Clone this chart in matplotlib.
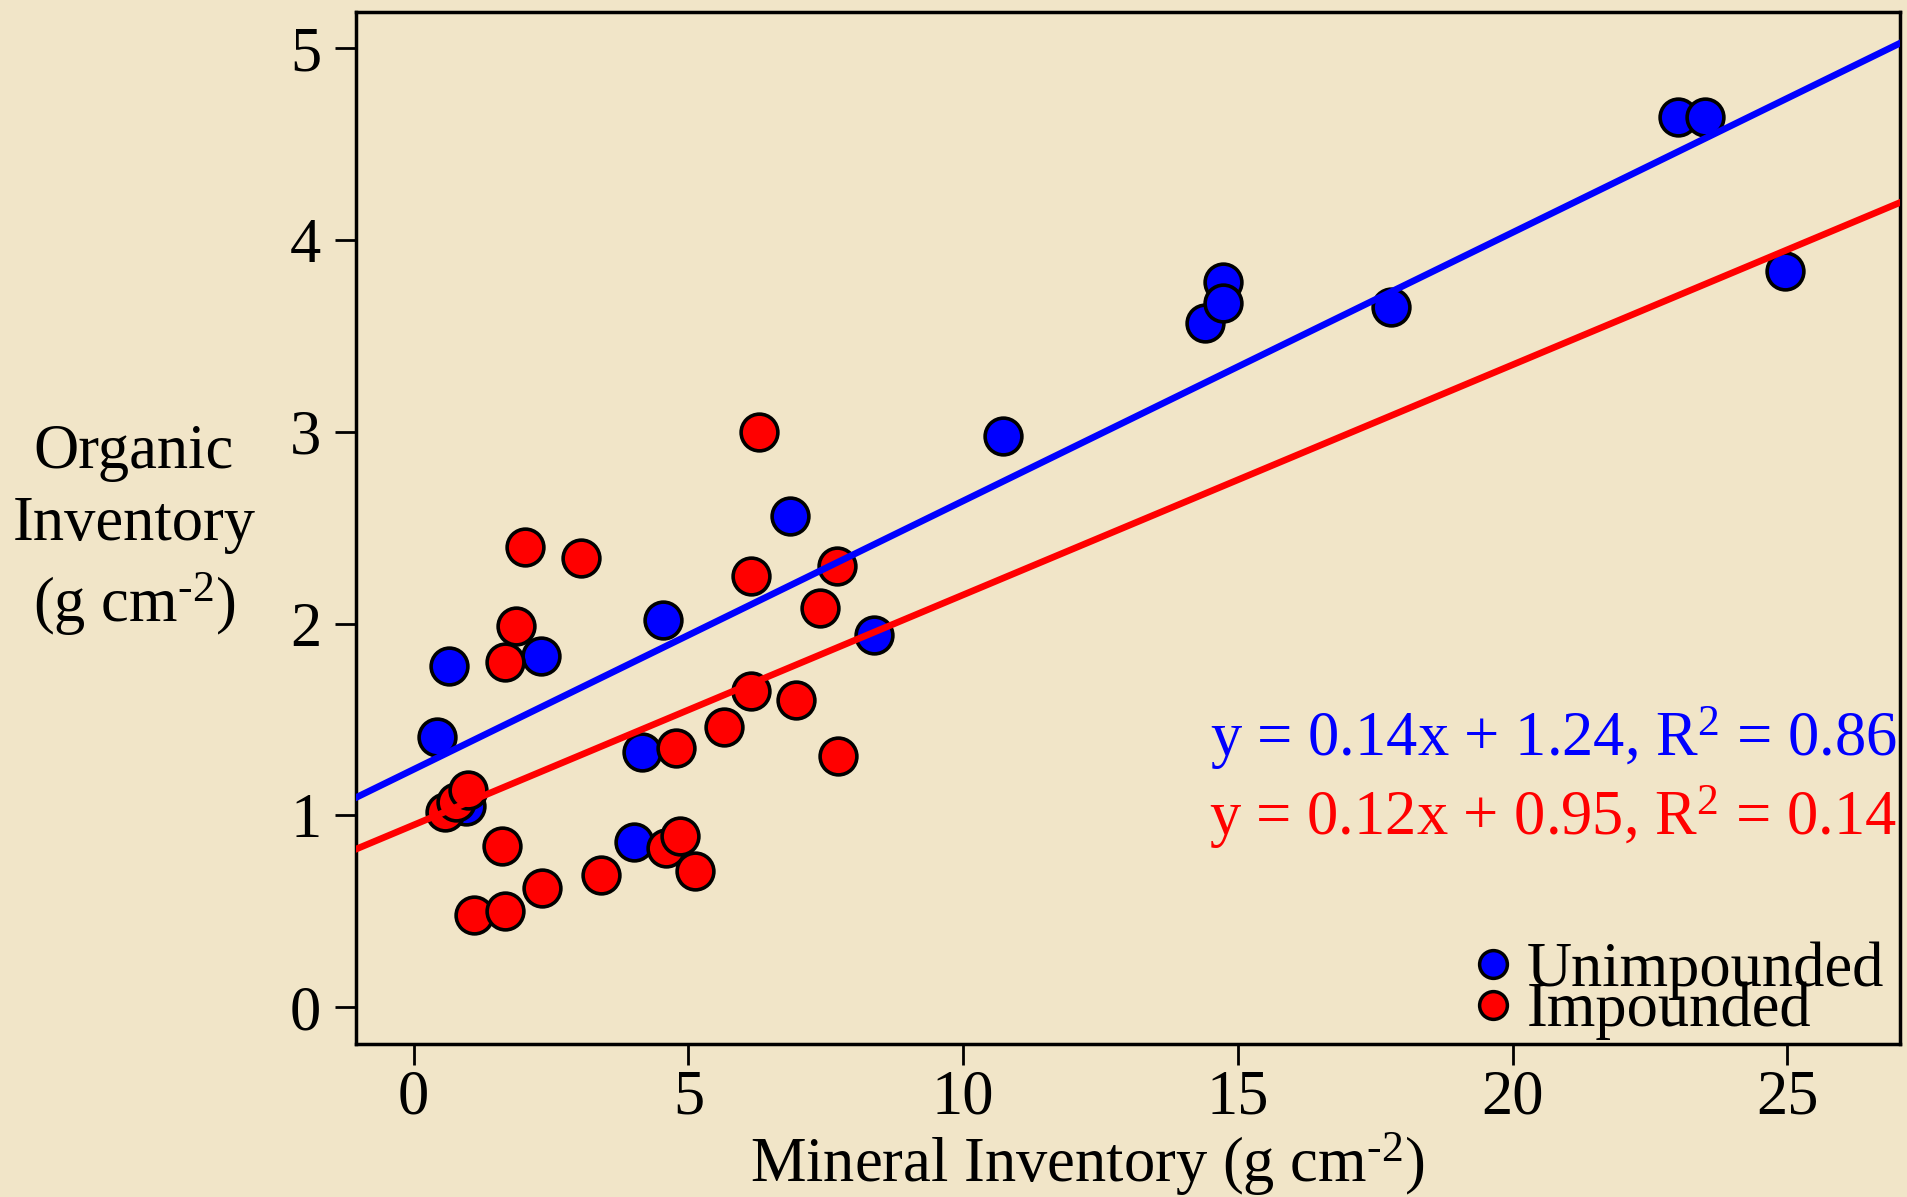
import matplotlib
matplotlib.use('Agg')
import matplotlib.pyplot as plt
import numpy as np
from matplotlib.lines import Line2D

# ---- data ----
unimp_x = [0.42, 0.64, 0.95, 2.32, 4.53, 4.15, 4.00, 6.85, 8.37, 10.73,
           14.40, 14.73, 14.73, 17.78, 23.01, 23.50, 24.96]
unimp_y = [1.41, 1.78, 1.05, 1.83, 2.02, 1.33, 0.86, 2.56, 1.94, 2.98,
           3.57, 3.78, 3.67, 3.65, 4.64, 4.64, 3.84]

imp_x = [0.57, 0.77, 0.99, 1.10, 1.66, 1.61, 1.66, 1.86, 2.03, 2.34, 3.05, 3.40,
         4.59, 4.84, 4.77, 5.12, 5.65, 6.14, 6.14, 6.29, 6.96, 7.40, 7.71, 7.73]
imp_y = [1.02, 1.07, 1.13, 0.48, 0.50, 0.84, 1.80, 1.99, 2.40, 0.62, 2.34, 0.69,
         0.83, 0.89, 1.35, 0.71, 1.46, 1.65, 2.25, 3.00, 1.60, 2.08, 2.30, 1.31]

fit_unimp = (0.14, 1.24, 0.86)   # slope, intercept, R2
fit_imp = (0.12, 0.95, 0.14)

x_ticks = [0, 5, 10, 15, 20, 25]
y_ticks = [0, 1, 2, 3, 4, 5]
series_labels = ['Unimpounded', 'Impounded']

# ---- style ----
bg = '#f1e5c8'
plt.rcParams['font.family'] = ['Liberation Serif', 'DejaVu Serif']
plt.rcParams['mathtext.fontset'] = 'custom'
plt.rcParams['mathtext.rm'] = 'Liberation Serif'
plt.rcParams['mathtext.it'] = 'Liberation Serif:italic'
FS = 45

fig = plt.figure(figsize=(19.07, 11.97), dpi=100, facecolor=bg)
ax = fig.add_axes([0.1867, 0.1282, 0.8096, 0.8618])
ax.set_facecolor(bg)

xlim = (-1.05, 27.05)
ylim = (-0.19, 5.19)
ax.set_xlim(*xlim)
ax.set_ylim(*ylim)

ax.scatter(unimp_x, unimp_y, s=700, c='blue', edgecolors='black', linewidths=2.6, zorder=3)
ax.scatter(imp_x, imp_y, s=700, c='red', edgecolors='black', linewidths=2.6, zorder=4)

xs = np.array(xlim)
ax.plot(xs, fit_unimp[0] * xs + fit_unimp[1], color='blue', lw=4.8, zorder=5)
ax.plot(xs, fit_imp[0] * xs + fit_imp[1], color='red', lw=4.8, zorder=5)

ax.set_xticks(x_ticks)
ax.set_yticks(y_ticks)
ax.tick_params(axis='both', labelsize=FS, length=15, width=2, color='black')
ax.tick_params(axis='x', pad=4)
ax.tick_params(axis='y', pad=10)
for sp in ax.spines.values():
    sp.set_linewidth(2.5)

ax.text(0.998, 0.279,
        'y = %.2fx + %.2f, R$^2$ = %.2f' % fit_unimp,
        transform=ax.transAxes, ha='right', va='baseline', fontsize=FS, color='blue')
ax.text(0.998, 0.202,
        'y = %.2fx + %.2f, R$^2$ = %.2f' % fit_imp,
        transform=ax.transAxes, ha='right', va='baseline', fontsize=FS, color='red')

handles = [Line2D([], [], marker='o', ls='none', mfc='blue', mec='black', ms=20, mew=2.5),
           Line2D([], [], marker='o', ls='none', mfc='red', mec='black', ms=20, mew=2.5)]
leg = ax.legend(handles, series_labels, loc='lower right', bbox_to_anchor=(0.990, 0.003),
                frameon=False, fontsize=FS, handletextpad=0.3, labelspacing=-0.29,
                handlelength=0.5, borderaxespad=0, borderpad=0)
leg.set_zorder(6)

unit = '(g cm$^{\\text{-2}}$)'
fig.text(0.570, 0.0125, 'Mineral Inventory ' + unit, ha='center', va='baseline',
         fontsize=FS)
fig.text(134 / 1907, 1 - 531 / 1197, 'Organic\nInventory\n' + unit, ha='center',
         va='center', multialignment='center', linespacing=1.32, fontsize=FS)

fig.savefig('out.png', dpi=100, facecolor=bg)
